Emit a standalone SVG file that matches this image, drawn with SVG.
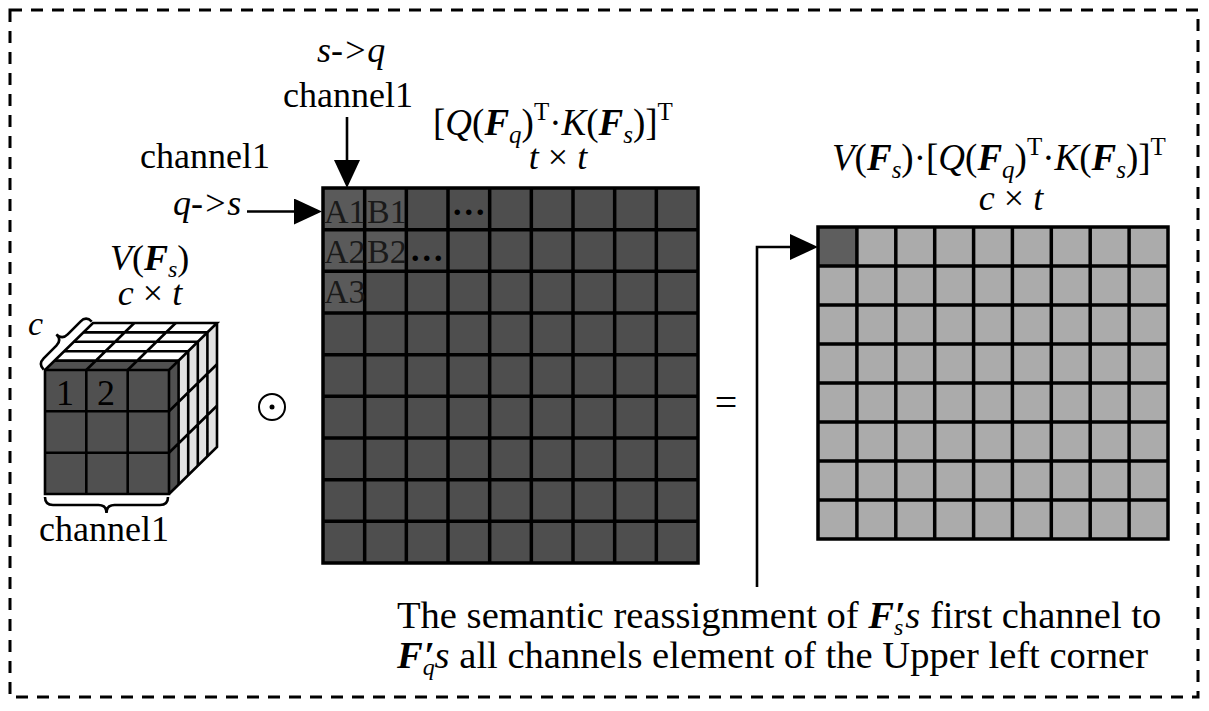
<svg xmlns="http://www.w3.org/2000/svg" width="1209" height="711" viewBox="0 0 1209 711">
<style>
.t{font-family:"Liberation Serif","Times New Roman",serif;fill:#000}
.i{font-style:italic}
.bi{font-style:italic;font-weight:bold}
.grid{fill:none;stroke:#000;stroke-width:3.5;stroke-linejoin:miter}
.ln{fill:none;stroke:#000;stroke-width:2.6}
.cl{font-family:"Liberation Serif","Times New Roman",serif;fill:#1a1a1a;font-size:34px}
.dots{font-family:"Liberation Serif","Times New Roman",serif;fill:#000;font-size:34px;font-weight:bold;letter-spacing:3px}
</style>
<defs>
<marker id="ah" markerUnits="userSpaceOnUse" markerWidth="28" markerHeight="26" refX="22" refY="13" orient="auto">
<path d="M0,0 L28,13 L0,26 Z" fill="#000"/>
</marker>
</defs>
<rect width="1209" height="711" fill="#fff"/>
<rect id="frame" x="10" y="10" width="1188" height="687" fill="none" stroke="#000" stroke-width="3" stroke-dasharray="12 9"/>

<g id="cube">
<polygon points="45,370 169,370 217,323 93,323" fill="#fff"/>
<polygon points="45,370 169,370 178.6,360.6 54.6,360.6" fill="#505050"/>
<polygon points="169,370 217,323 217,447 169,494" fill="#e2e2e2"/>
<polygon points="169,370 178.6,360.6 178.6,484.6 169,494" fill="#505050"/>
<rect x="45" y="370" width="124" height="124" fill="#505050"/>
<path class="ln" stroke-width="3" d="M86.3,370 L134.3,323 M127.7,370 L175.7,323 M54.6,360.6 H178.6 M64.2,351.2 H188.2 M73.8,341.8 H197.8 M83.4,332.4 H207.4 M169,411.3 L217,364.3 M169,452.7 L217,405.7 M178.6,360.6 V484.6 M188.2,351.2 V475.2 M197.8,341.8 V465.8 M207.4,332.4 V456.4"/>
<path class="ln" stroke-width="3.5" d="M45,370 H169 V494 H45 Z M86.3,370 V494 M127.7,370 V494 M45,411.3 H169 M45,452.7 H169 M45,370 L93,323 H217 L169,370 M217,323 V447 L169,494"/>
<text class="t" x="56" y="405" font-size="36">1</text>
<text class="t" x="97" y="405" font-size="36">2</text>
<path class="ln" stroke-width="2.6" transform="translate(38,364) rotate(-45)" d="M0,8 Q0,0 8,0 L26,0 Q34,0 34,-8 Q34,0 42,0 L60,0 Q68,0 68,8"/>
<path class="ln" stroke-width="2.6" d="M45,497 Q45,505 53,505 L98.5,505 Q106.5,505 106.5,513 Q106.5,505 114.5,505 L160,505 Q168,505 168,497"/>
<text class="t i" x="28" y="335" font-size="34">c</text>
<text class="t" x="104" y="541" font-size="36" text-anchor="middle">channel1</text>
<text class="t" x="110" y="270" font-size="36"><tspan class="i">V</tspan>(<tspan class="bi">F</tspan><tspan class="i" font-size="24" dy="7">s</tspan><tspan dy="-7">)</tspan></text>
<text class="t" x="150" y="305" font-size="36" text-anchor="middle"><tspan class="i">c</tspan> × <tspan class="i">t</tspan></text>
</g>

<g id="odot">
<circle cx="272" cy="407" r="13" fill="none" stroke="#000" stroke-width="2"/>
<circle cx="272" cy="407" r="2.5" fill="#000"/>
</g>

<g id="matrix-qk">
<rect x="323" y="188" width="375" height="375" fill="#4e4e4e"/>
<rect x="323" y="188" width="83.33" height="83.33" fill="#5a5a5a"/>
<rect x="323" y="271.33" width="41.67" height="41.67" fill="#5a5a5a"/>
<path class="grid" d="M323,188 H698 V563 H323 Z M364.67,188 V563 M406.33,188 V563 M448,188 V563 M489.67,188 V563 M531.33,188 V563 M573,188 V563 M614.67,188 V563 M656.33,188 V563 M323,229.67 H698 M323,271.33 H698 M323,313 H698 M323,354.67 H698 M323,396.33 H698 M323,438 H698 M323,479.67 H698 M323,521.33 H698"/>
<text class="cl" x="324" y="223">A1</text>
<text class="cl" x="367" y="223">B1</text>
<text class="dots" x="453" y="215">...</text>
<text class="cl" x="324" y="263">A2</text>
<text class="cl" x="367" y="263">B2</text>
<text class="dots" x="411" y="261">...</text>
<text class="cl" x="324" y="303">A3</text>
<text class="t" x="433" y="135" font-size="37">[<tspan class="i">Q</tspan>(<tspan class="bi">F</tspan><tspan class="i" font-size="25" dy="8">q</tspan><tspan dy="-8">)</tspan><tspan font-size="25" dy="-15">T</tspan><tspan dy="15">·</tspan><tspan class="i">K</tspan>(<tspan class="bi">F</tspan><tspan class="i" font-size="25" dy="8">s</tspan><tspan dy="-8">)]</tspan><tspan font-size="25" dy="-15">T</tspan></text>
<text class="t" x="558" y="169" font-size="36" text-anchor="middle"><tspan class="i">t</tspan> × <tspan class="i">t</tspan></text>
</g>

<g id="equals">
<text class="t" x="726" y="416" font-size="40" text-anchor="middle">=</text>
</g>

<g id="matrix-out">
<rect x="818" y="227" width="350" height="312" fill="#ababab"/>
<rect x="818" y="227" width="38.9" height="39" fill="#5e5e5e"/>
<path class="grid" d="M818,227 H1168 V539 H818 Z M856.9,227 V539 M895.8,227 V539 M934.7,227 V539 M973.6,227 V539 M1012.4,227 V539 M1051.3,227 V539 M1090.2,227 V539 M1129.1,227 V539 M818,266 H1168 M818,305 H1168 M818,344 H1168 M818,383 H1168 M818,422 H1168 M818,461 H1168 M818,500 H1168"/>
<text class="t" x="832" y="170" font-size="37"><tspan class="i">V</tspan>(<tspan class="bi">F</tspan><tspan class="i" font-size="25" dy="8">s</tspan><tspan dy="-8">)·[</tspan><tspan class="i">Q</tspan>(<tspan class="bi">F</tspan><tspan class="i" font-size="25" dy="8">q</tspan><tspan dy="-8">)</tspan><tspan font-size="25" dy="-15">T</tspan><tspan dy="15">·</tspan><tspan class="i">K</tspan>(<tspan class="bi">F</tspan><tspan class="i" font-size="25" dy="8">s</tspan><tspan dy="-8">)]</tspan><tspan font-size="25" dy="-15">T</tspan></text>
<text class="t" x="1011" y="210" font-size="36" text-anchor="middle"><tspan class="i">c</tspan> × <tspan class="i">t</tspan></text>
</g>

<g id="labels">
<text class="t i" x="317" y="62" font-size="36">s-&gt;q</text>
<text class="t" x="283" y="107" font-size="36">channel1</text>
<text class="t" x="140" y="168" font-size="36">channel1</text>
<text class="t i" x="173" y="215" font-size="36">q-&gt;s</text>
<text class="t" x="397" y="628" font-size="38.6">The semantic reassignment of <tspan class="bi">F</tspan><tspan class="i" font-size="24" dy="7">s</tspan><tspan class="bi" dx="-9" dy="-7">′</tspan><tspan class="i">s</tspan> first channel to</text>
<text class="t" x="397" y="668" font-size="38.6"><tspan class="bi">F</tspan><tspan class="i" font-size="24" dy="7">q</tspan><tspan class="bi" dx="-11" dy="-7">′</tspan><tspan class="i">s</tspan> all channels element of the Upper left corner</text>
</g>

<g id="connectors">
<path class="ln" d="M247,211.5 H316" marker-end="url(#ah)"/>
<path class="ln" d="M347,117 V182" marker-end="url(#ah)"/>
<path class="ln" d="M757,587 V247 H812" marker-end="url(#ah)"/>
</g>
</svg>
